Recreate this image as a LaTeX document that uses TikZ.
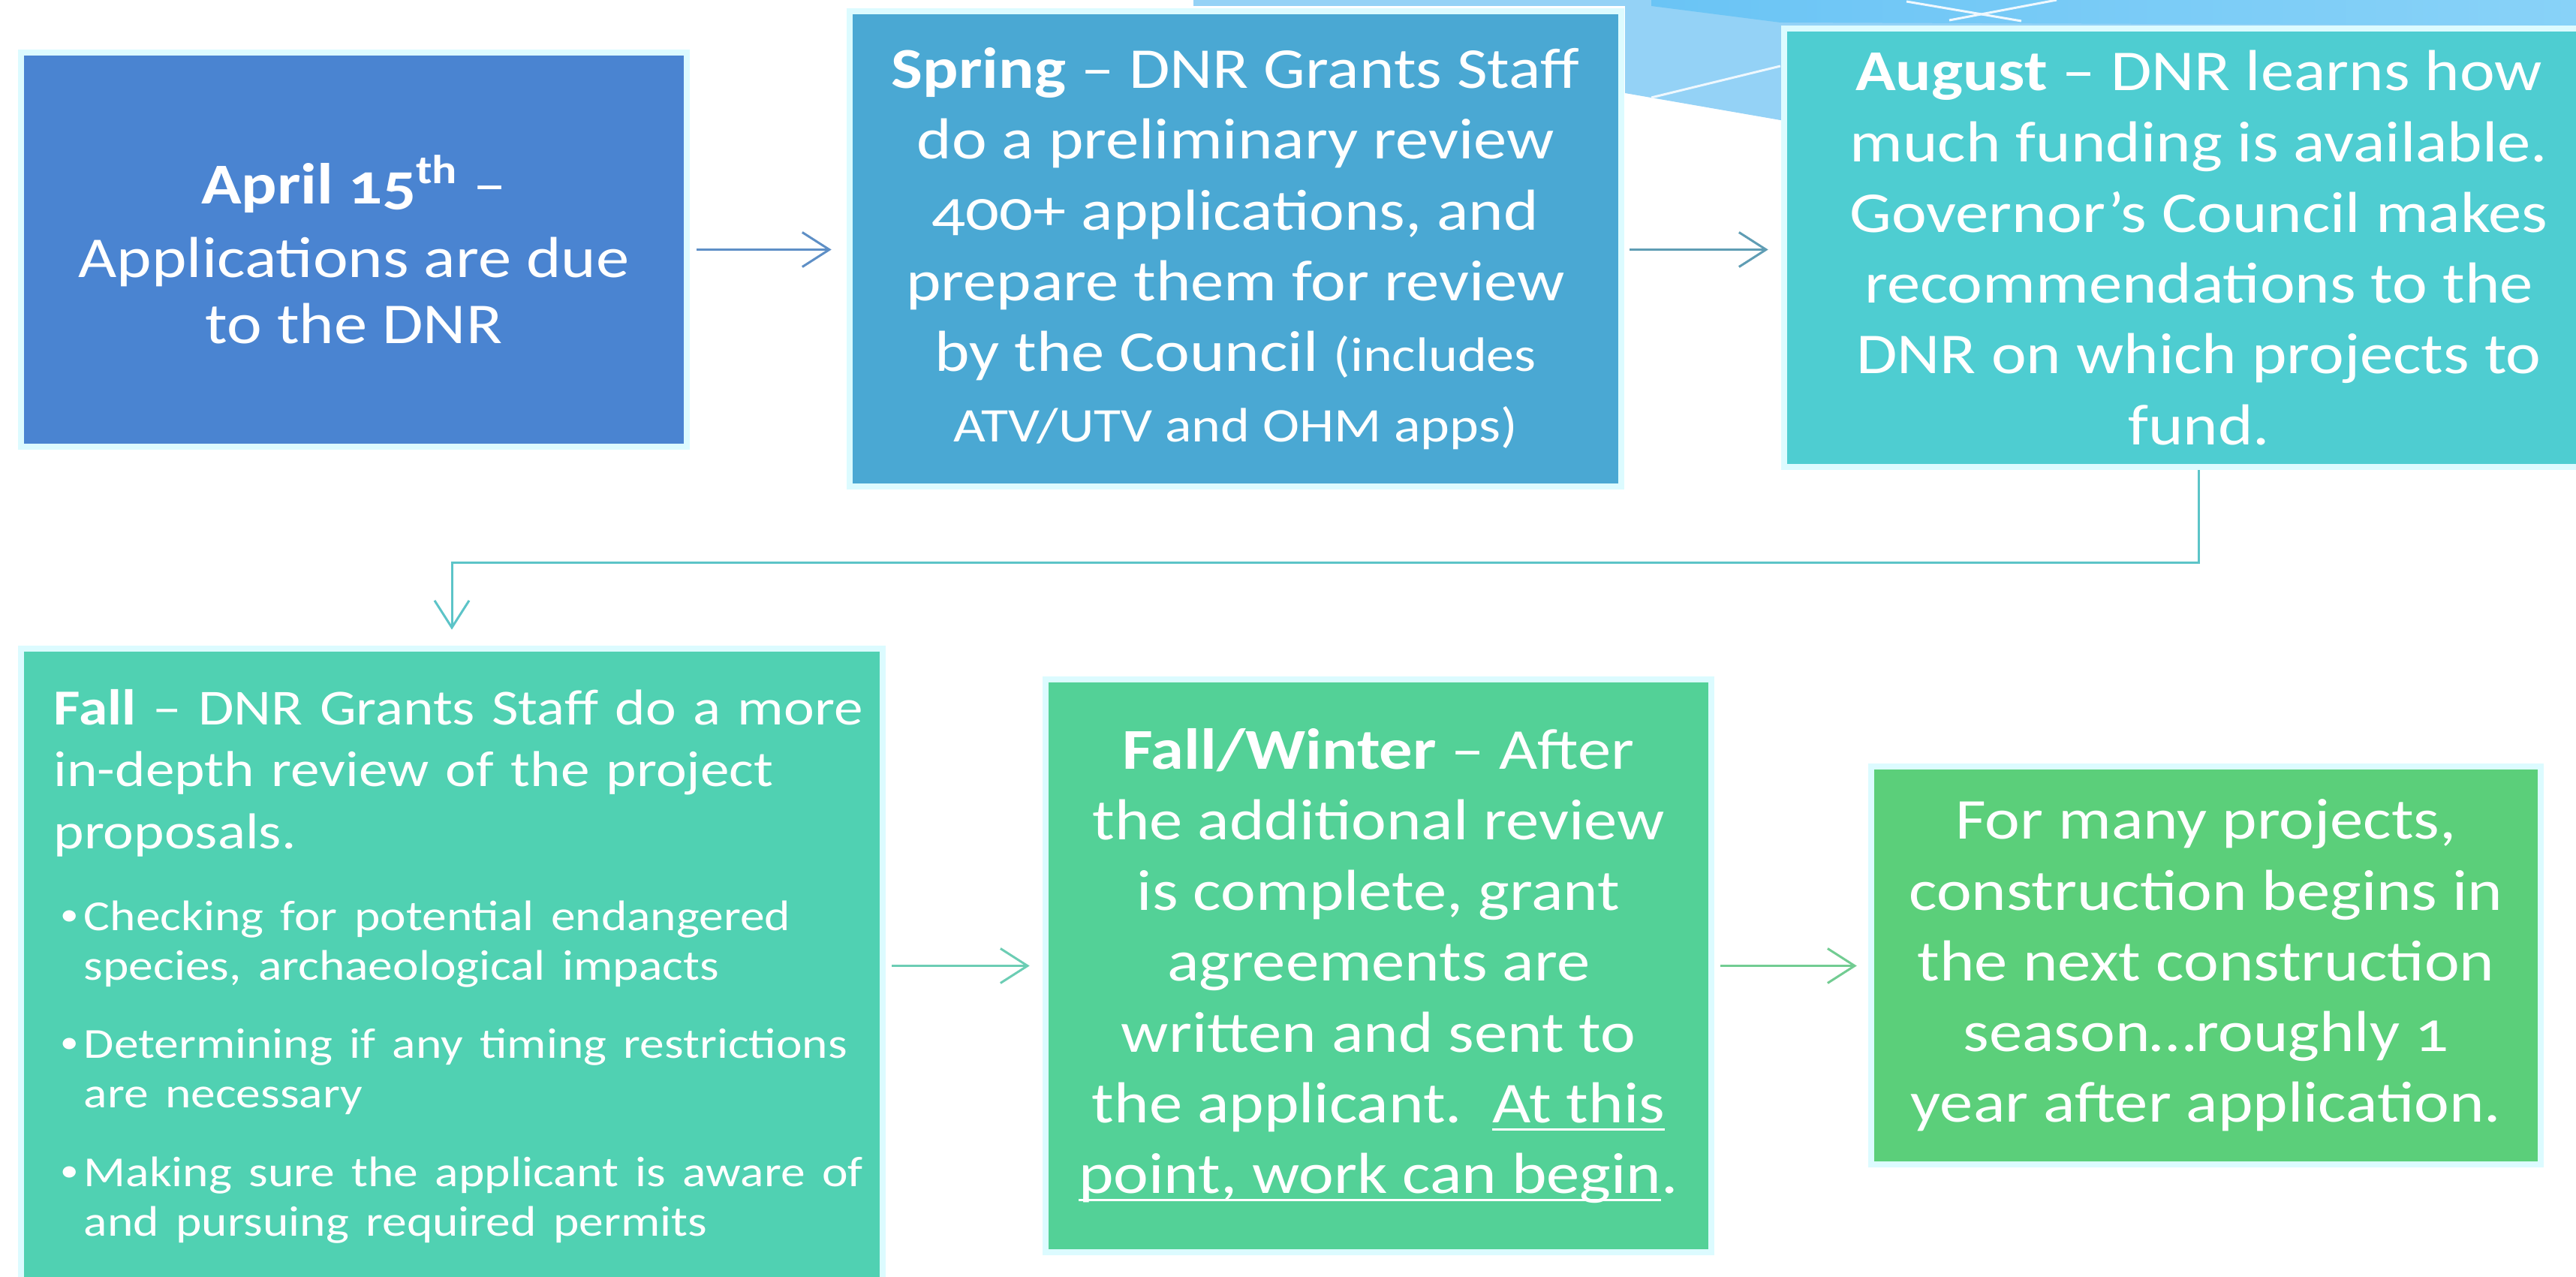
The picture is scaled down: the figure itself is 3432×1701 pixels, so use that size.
\documentclass[tikz,border=0pt]{standalone}
\usepackage{fontspec}
\setmainfont{Carlito}[FakeStretch=1.15,Numbers=OldStyle]
\usetikzlibrary{arrows.meta}
\newcommand\myul[1]{\setbox0=\hbox{#1}\rlap{\rule[-3pt]{\wd0}{0.9pt}}\box0}
\newcommand\bul[1]{\mbox{\hspace*{0.09cm}\makebox[0.31cm][l]{\raisebox{0.12em}{\scalebox{0.75}{•}}}#1}\par}
\newcommand\cont[1]{\mbox{\hspace*{0.40cm}#1}\par}
\definecolor{cA}{HTML}{4A84D1}
\definecolor{cB}{HTML}{4AA8D3}
\definecolor{cC}{HTML}{4ECDD1}
\definecolor{cD}{HTML}{50D1B2}
\definecolor{cE}{HTML}{53D197}
\definecolor{cF}{HTML}{5BCF7A}
\definecolor{edgecol}{HTML}{DCFBFF}
\definecolor{skyA}{HTML}{94D2F6}
\definecolor{skyB}{HTML}{6AC4F5}
\definecolor{skyC}{HTML}{88D2F8}
\definecolor{aA}{HTML}{5E8FC6}
\definecolor{aB}{HTML}{5F9DB4}
\definecolor{aC}{HTML}{5CC4C8}
\definecolor{aD}{HTML}{6CCDB4}
\definecolor{aE}{HTML}{72CC92}
\begin{document}
\begin{tikzpicture}[x=0.01cm,y=-0.01cm,
  box/.style={rectangle, draw=edgecol, line width=0.08cm, text=white, inner sep=0pt,
    align=center, font=\fontsize{21.9pt}{26.8pt}\selectfont},
  conn/.style={line width=0.03cm, -{Straight Barb[length=0.36cm,width=0.46cm]}},
  deco/.style={draw=white!85!skyA, line width=0.03cm}]
\clip (0,0) rectangle (3432,1701);
\fill[white] (0,0) rectangle (3432,1701);
% decorative background at top
\fill[skyA] (1590,0) -- (3432,0) -- (3432,200) -- (2372,160) -- (2165,124) -- (2165,8) -- (1590,8) -- cycle;
\shade[left color=skyB, right color=skyC] (2200,0) -- (3432,0) -- (3432,34) -- (2372,30) -- (2200,8) -- cycle;
\draw[deco] (2200,130) -- (2372,88);
\draw[deco] (2540,2) -- (2693,28);
\draw[deco] (2740,0) -- (2597,27);
% boxes
\node[box, fill=cA, minimum width=8.87cm, minimum height=5.25cm,
  font=\fontsize{21.9pt}{25pt}\selectfont] (b1) at (471.5,332.5)
  {\textbf{April 15\textsuperscript{th}} –\\[3pt] Applications are due\\ to the DNR};
\node[box, fill=cB, minimum width=10.28cm, minimum height=6.33cm] (b2) at (1646,331.5)
  {\textbf{Spring} – DNR Grants Staff\\ do a preliminary review\\ 400+ applications, and\\
   prepare them for review\\ by the Council {\fontsize{18.3pt}{22pt}\selectfont (includes}\\
   {\fontsize{18.3pt}{22pt}\selectfont ATV/UTV and OHM apps)}};
\node[box, fill=cC, minimum width=11.05cm, minimum height=5.84cm] (b3) at (2929.5,330)
  {\textbf{August} – DNR learns how\\ much funding is available.\\ Governor’s Council makes\\
   recommendations to the\\ DNR on which projects to\\ fund.};
\node[box, fill=cD, minimum width=11.48cm, minimum height=8.46cm, align=left, text width=10.6cm,
  font=\fontsize{19.1pt}{23.5pt}\selectfont] (b4) at (602,1287)
  {\parindent=0pt\parskip=0pt\raggedright
   \mbox{\textbf{Fall} – DNR Grants Staff do a more}\par
   \mbox{in-depth review of the project}\par
   \mbox{proposals.}\par
   {\fontsize{16.2pt}{18.7pt}\selectfont
   \vspace{0.43cm}
   \bul{Checking for potential endangered}
   \cont{species, archaeological impacts}
   \vspace{0.39cm}
   \bul{Determining if any timing restrictions}
   \cont{are necessary}
   \vspace{0.39cm}
   \bul{Making sure the applicant is aware of}
   \cont{and pursuing required permits}}};
\node[box, fill=cE, minimum width=8.87cm, minimum height=7.63cm] (b5) at (1836.5,1286.5)
  {\textbf{Fall/Winter} – After\\ the additional review\\ is complete, grant\\ agreements are\\
   written and sent to\\ the applicant.\ \ \myul{At this}\\ \myul{point, work can begin}.};
\node[box, fill=cF, minimum width=8.92cm, minimum height=5.30cm] (b6) at (2939,1286)
  {For many projects,\\ construction begins in\\ the next construction\\ season…roughly 1\\
   year after application.};
% connectors
\draw[conn, draw=aA, shorten <=0.09cm, shorten >=0.2cm] (b1.east) -- (b1.east -| b2.west);
\draw[conn, draw=aB, shorten <=0.07cm, shorten >=0.17cm] (b2.east |- b1.east) -- (b1.east -| b3.west);
\draw[conn, draw=aC, shorten >=0.21cm] (b3.south) -- ++(0,123) -| (b4.north);
\draw[conn, draw=aD, shorten <=0.08cm, shorten >=0.17cm] (b4.east |- b5.west) -- (b5.west);
\draw[conn, draw=aE, shorten <=0.08cm, shorten >=0.15cm] (b5.east) -- (b5.east -| b6.west);
\end{tikzpicture}
\end{document}
